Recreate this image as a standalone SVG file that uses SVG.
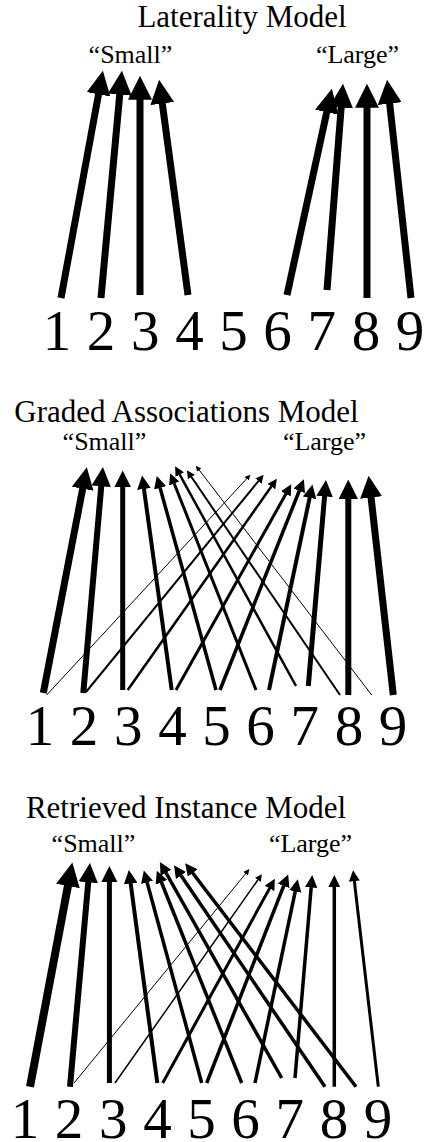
<svg xmlns="http://www.w3.org/2000/svg" width="431" height="1142" viewBox="0 0 431 1142">
<style>
text{font-family:"Liberation Serif","Times New Roman",serif;fill:#000}
.t{font-size:31px;text-anchor:middle}
.l{font-size:26px;text-anchor:middle}
.n{font-size:57px;text-anchor:middle}
.c line{stroke:#000;fill:none}
</style>
<defs>
<marker id="m24" viewBox="0 0 10 10" refX="0.3" refY="5" markerUnits="userSpaceOnUse" markerWidth="24" markerHeight="24" orient="auto"><path d="M0,0L10,5L0,10z"/></marker>
<marker id="m22" viewBox="0 0 10 10" refX="0.3" refY="5" markerUnits="userSpaceOnUse" markerWidth="22" markerHeight="22" orient="auto"><path d="M0,0L10,5L0,10z"/></marker>
<marker id="m19" viewBox="0 0 10 10" refX="0.3" refY="5" markerUnits="userSpaceOnUse" markerWidth="19.3" markerHeight="19.3" orient="auto"><path d="M0,0L10,5L0,10z"/></marker>
<marker id="m16" viewBox="0 0 10 10" refX="0.3" refY="5" markerUnits="userSpaceOnUse" markerWidth="16.5" markerHeight="16.5" orient="auto"><path d="M0,0L10,5L0,10z"/></marker>
<marker id="m14" viewBox="0 0 10 10" refX="0.3" refY="5" markerUnits="userSpaceOnUse" markerWidth="13.7" markerHeight="13.7" orient="auto"><path d="M0,0L10,5L0,10z"/></marker>
<marker id="m12" viewBox="0 0 10 10" refX="0.3" refY="5" markerUnits="userSpaceOnUse" markerWidth="12.4" markerHeight="12.4" orient="auto"><path d="M0,0L10,5L0,10z"/></marker>
<marker id="m11" viewBox="0 0 10 10" refX="0.3" refY="5" markerUnits="userSpaceOnUse" markerWidth="11" markerHeight="11" orient="auto"><path d="M0,0L10,5L0,10z"/></marker>
<marker id="m10" viewBox="0 0 10 10" refX="0.3" refY="5" markerUnits="userSpaceOnUse" markerWidth="9.6" markerHeight="9.6" orient="auto"><path d="M0,0L10,5L0,10z"/></marker>
<marker id="m8" viewBox="0 0 10 10" refX="0.3" refY="5" markerUnits="userSpaceOnUse" markerWidth="8.2" markerHeight="8.2" orient="auto"><path d="M0,0L10,5L0,10z"/></marker>
<marker id="m7" viewBox="0 0 10 10" refX="0.3" refY="5" markerUnits="userSpaceOnUse" markerWidth="7" markerHeight="7" orient="auto"><path d="M0,0L10,5L0,10z"/></marker>
<marker id="m6" viewBox="0 0 10 10" refX="0.3" refY="5" markerUnits="userSpaceOnUse" markerWidth="6" markerHeight="6" orient="auto"><path d="M0,0L10,5L0,10z"/></marker>
<marker id="m5" viewBox="0 0 10 10" refX="0.3" refY="5" markerUnits="userSpaceOnUse" markerWidth="5.5" markerHeight="5.5" orient="auto"><path d="M0,0L10,5L0,10z"/></marker>
</defs>

<g id="panel1">
<text class="t" x="242" y="27">Laterality Model</text>
<g id="p1-small"><text class="l" x="130.5" y="63">“Small”</text></g>
<g id="p1-large"><text class="l" x="357.5" y="63">“Large”</text></g>
<g id="p1-n1"><text class="n" x="57" y="350">1</text></g>
<g id="p1-n2"><text class="n" x="101.1" y="350">2</text></g>
<g id="p1-n3"><text class="n" x="145.3" y="350">3</text></g>
<g id="p1-n4"><text class="n" x="189.4" y="350">4</text></g>
<g id="p1-n5"><text class="n" x="233.5" y="350">5</text></g>
<g id="p1-n6"><text class="n" x="277.6" y="350">6</text></g>
<g id="p1-n7"><text class="n" x="321.8" y="350">7</text></g>
<g id="p1-n8"><text class="n" x="365.9" y="350">8</text></g>
<g id="p1-n9"><text class="n" x="410" y="350">9</text></g>
<g id="p1-connectors" class="c" stroke-width="7">
<line x1="61" y1="298" x2="98.65" y2="93.6" marker-end="url(#m24)"/>
<line x1="101" y1="298" x2="119.8" y2="93.9" marker-end="url(#m24)"/>
<line x1="140" y1="295" x2="140" y2="99" marker-end="url(#m24)"/>
<line x1="188" y1="295" x2="162.2" y2="102.8" marker-end="url(#m24)"/>
<line x1="287" y1="295" x2="326.9" y2="111.5" marker-end="url(#m24)"/>
<line x1="327" y1="290" x2="341.2" y2="106.9" marker-end="url(#m24)"/>
<line x1="367" y1="298" x2="367" y2="107" marker-end="url(#m24)"/>
<line x1="411" y1="298" x2="389.6" y2="102.9" marker-end="url(#m24)"/>
</g>
</g>

<g id="panel2">
<text class="t" x="186.5" y="422">Graded Associations Model</text>
<g id="p2-small"><text class="l" x="104.5" y="450">“Small”</text></g>
<g id="p2-large"><text class="l" x="324.5" y="450">“Large”</text></g>
<g id="p2-n1"><text class="n" x="40" y="745">1</text></g>
<g id="p2-n2"><text class="n" x="84.1" y="745">2</text></g>
<g id="p2-n3"><text class="n" x="128.3" y="745">3</text></g>
<g id="p2-n4"><text class="n" x="172.4" y="745">4</text></g>
<g id="p2-n5"><text class="n" x="216.5" y="745">5</text></g>
<g id="p2-n6"><text class="n" x="260.6" y="745">6</text></g>
<g id="p2-n7"><text class="n" x="304.8" y="745">7</text></g>
<g id="p2-n8"><text class="n" x="348.9" y="745">8</text></g>
<g id="p2-n9"><text class="n" x="393" y="745">9</text></g>
<g id="p2-connectors" class="c">
<line x1="43.3" y1="693" x2="82.8" y2="488.1" stroke-width="7" marker-end="url(#m22)"/>
<line x1="83.3" y1="693" x2="101.3" y2="485.7" stroke-width="6" marker-end="url(#m19)"/>
<line x1="122.7" y1="690" x2="122.7" y2="486.5" stroke-width="5" marker-end="url(#m16)"/>
<line x1="171.7" y1="690" x2="143.9" y2="488.6" stroke-width="4" marker-end="url(#m14)"/>
<line x1="216" y1="690" x2="160" y2="487.5" stroke-width="3.5" marker-end="url(#m12)"/>
<line x1="256" y1="690" x2="174.1" y2="483.2" stroke-width="3" marker-end="url(#m11)"/>
<line x1="296" y1="686" x2="179.6" y2="474.4" stroke-width="2.5" marker-end="url(#m10)"/>
<line x1="340" y1="695" x2="191.3" y2="476.8" stroke-width="2" marker-end="url(#m8)"/>
<line x1="371.7" y1="695" x2="199.1" y2="469.9" stroke-width="1" marker-end="url(#m5)"/>
<line x1="46.7" y1="695" x2="246.8" y2="478.6" stroke-width="1" marker-end="url(#m5)"/>
<line x1="86" y1="692" x2="258.6" y2="480.9" stroke-width="2" marker-end="url(#m8)"/>
<line x1="127.7" y1="690" x2="271.5" y2="486.3" stroke-width="2.5" marker-end="url(#m10)"/>
<line x1="176" y1="690" x2="286.1" y2="493.6" stroke-width="3" marker-end="url(#m11)"/>
<line x1="220" y1="690" x2="299.4" y2="490.5" stroke-width="3.5" marker-end="url(#m12)"/>
<line x1="269" y1="690" x2="309.7" y2="497.4" stroke-width="4" marker-end="url(#m14)"/>
<line x1="308.3" y1="686" x2="324.6" y2="495.9" stroke-width="5" marker-end="url(#m16)"/>
<line x1="348.3" y1="695" x2="348.3" y2="498.3" stroke-width="6" marker-end="url(#m19)"/>
<line x1="393.3" y1="695" x2="371" y2="496.9" stroke-width="7" marker-end="url(#m22)"/>
</g>
</g>

<g id="panel3">
<text class="t" x="186" y="818">Retrieved Instance Model</text>
<g id="p3-small"><text class="l" x="93.5" y="852">“Small”</text></g>
<g id="p3-large"><text class="l" x="310.5" y="852">“Large”</text></g>
<g id="p3-n1"><text class="n" x="25" y="1138">1</text></g>
<g id="p3-n2"><text class="n" x="69.1" y="1138">2</text></g>
<g id="p3-n3"><text class="n" x="113.3" y="1138">3</text></g>
<g id="p3-n4"><text class="n" x="157.4" y="1138">4</text></g>
<g id="p3-n5"><text class="n" x="201.5" y="1138">5</text></g>
<g id="p3-n6"><text class="n" x="245.6" y="1138">6</text></g>
<g id="p3-n7"><text class="n" x="289.8" y="1138">7</text></g>
<g id="p3-n8"><text class="n" x="333.9" y="1138">8</text></g>
<g id="p3-n9"><text class="n" x="378" y="1138">9</text></g>
<g id="p3-connectors" class="c">
<line x1="30" y1="1086.7" x2="68.05" y2="885.3" stroke-width="8" marker-end="url(#m24)"/>
<line x1="70" y1="1086.7" x2="88.3" y2="881.7" stroke-width="6" marker-end="url(#m19)"/>
<line x1="109.4" y1="1083" x2="109.4" y2="882" stroke-width="5" marker-end="url(#m16)"/>
<line x1="157.3" y1="1083" x2="130.6" y2="883.1" stroke-width="4" marker-end="url(#m14)"/>
<line x1="201.7" y1="1083" x2="147" y2="882" stroke-width="3.5" marker-end="url(#m12)"/>
<line x1="241.7" y1="1083" x2="161.3" y2="882" stroke-width="3.5" marker-end="url(#m12)"/>
<line x1="281.7" y1="1078" x2="165.8" y2="872.5" stroke-width="3.5" marker-end="url(#m12)"/>
<line x1="325" y1="1086.7" x2="180.8" y2="875.2" stroke-width="3.5" marker-end="url(#m12)"/>
<line x1="356" y1="1086.7" x2="192.5" y2="872.7" stroke-width="3.5" marker-end="url(#m12)"/>
<line x1="74" y1="1083" x2="245.7" y2="873.6" stroke-width="1" marker-end="url(#m6)"/>
<line x1="115" y1="1083" x2="258" y2="879.7" stroke-width="1.5" marker-end="url(#m7)"/>
<line x1="162.7" y1="1083" x2="269.7" y2="888.1" stroke-width="3" marker-end="url(#m11)"/>
<line x1="206.7" y1="1083" x2="283.8" y2="885.6" stroke-width="3.5" marker-end="url(#m12)"/>
<line x1="255" y1="1083" x2="295.3" y2="891.1" stroke-width="3.5" marker-end="url(#m12)"/>
<line x1="295" y1="1078" x2="311.2" y2="887.1" stroke-width="3.5" marker-end="url(#m12)"/>
<line x1="334.3" y1="1086.7" x2="334.3" y2="887.1" stroke-width="3.5" marker-end="url(#m12)"/>
<line x1="378.3" y1="1086.7" x2="354.3" y2="880.9" stroke-width="3" marker-end="url(#m11)"/>
</g>
</g>
</svg>
